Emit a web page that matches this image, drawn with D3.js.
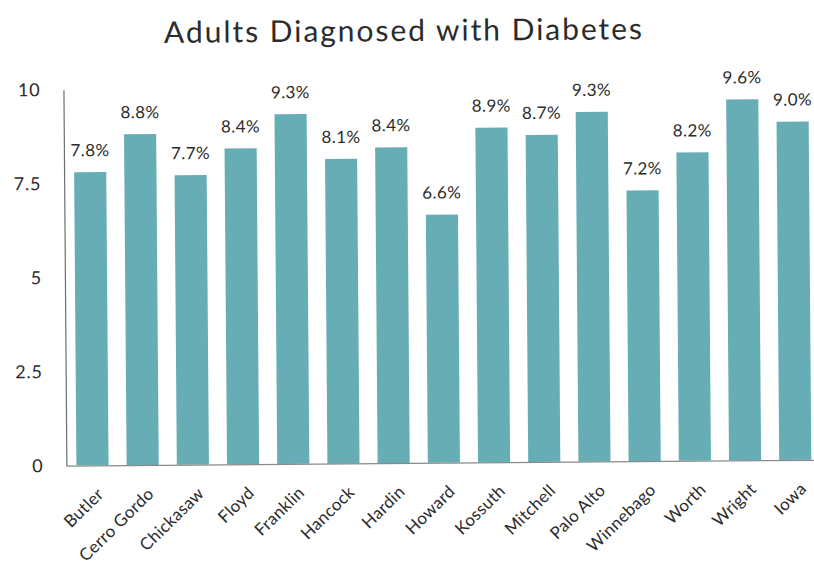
<!DOCTYPE html>
<html>
<head>
<meta charset="utf-8">
<script src="https://cdn.jsdelivr.net/npm/d3@7"></script>
<style>
  html, body { margin: 0; padding: 0; background: #fff; }
  svg { display: block; }
  text { font-family: "Lato", "Open Sans", sans-serif; fill: #2b2b2b; }
</style>
</head>
<body>
<svg id="chart" width="814" height="576"></svg>
<script>
// County-level share of adults diagnosed with diabetes (%)
const counties = ["Butler", "Cerro Gordo", "Chickasaw", "Floyd", "Franklin", "Hancock", "Hardin",
  "Howard", "Kossuth", "Mitchell", "Palo Alto", "Winnebago", "Worth", "Wright", "Iowa"];
const diabetesRate = [7.8, 8.8, 7.7, 8.4, 9.3, 8.1, 8.4, 6.6, 8.9, 8.7, 9.3, 7.2, 8.2, 9.6, 9.0];
const yTicks = [0, 2.5, 5, 7.5, 10];
const yTickLabels = ["0", "2.5", "5", "7.5", "10"];
const chartTitle = "Adults Diagnosed with Diabetes";

const W = 814, H = 576;
const margin = { left: 65, right: -6, top: 87, bottom: 113 };

const svg = d3.select("#chart");
const root = svg.append("g").attr("transform", `rotate(-0.45, ${W / 2}, ${H / 2})`);

const x = d3.scaleBand()
  .domain(counties)
  .range([margin.left, W - margin.right])
  .paddingInner(0.36)
  .paddingOuter(0.2);

const y = d3.scaleLinear()
  .domain([0, 10])
  .range([H - margin.bottom, margin.top]);

// title
root.append("text")
  .attr("x", 405)
  .attr("y", 41)
  .attr("text-anchor", "middle")
  .attr("textLength", 478)
  .attr("lengthAdjust", "spacing")
  .style("font-size", "30px")
  .text(chartTitle);

// bars
root.append("g").selectAll("rect")
  .data(counties)
  .join("rect")
  .attr("x", d => x(d))
  .attr("width", x.bandwidth())
  .attr("y", (d, i) => y(diabetesRate[i]))
  .attr("height", (d, i) => y(0) - y(diabetesRate[i]))
  .attr("fill", "#67adb6");

// value labels
root.append("g").selectAll("text")
  .data(counties)
  .join("text")
  .attr("x", d => x(d) + x.bandwidth() / 2)
  .attr("y", (d, i) => y(diabetesRate[i]) - 16)
  .attr("text-anchor", "middle")
  .style("font-size", "17px")
  .style("letter-spacing", "0.4px")
  .text((d, i) => diabetesRate[i].toFixed(1) + "%");

// y axis
const yAxis = root.append("g")
  .attr("transform", `translate(${margin.left},0)`)
  .call(d3.axisLeft(y).tickValues(yTicks).tickSize(0).tickPadding(23)
    .tickFormat((d, i) => yTickLabels[i]));
yAxis.select(".domain").attr("stroke", "#6f6f6f").attr("stroke-width", 1.2);
yAxis.selectAll(".tick text")
  .style("font-size", "18px")
  .style("letter-spacing", "0.8px")
  .style("font-family", "Lato, sans-serif")
  .attr("fill", "#2b2b2b");

// x axis
const xAxis = root.append("g")
  .attr("transform", `translate(0,${y(0)})`)
  .call(d3.axisBottom(x).tickSize(0).tickPadding(0));
xAxis.select(".domain").attr("stroke", "#8a8a8a").attr("stroke-width", 1.2);
xAxis.selectAll(".tick text")
  .style("font-size", "17px")
  .style("letter-spacing", "0.3px")
  .style("font-family", "Lato, sans-serif")
  .attr("fill", "#2b2b2b")
  .attr("text-anchor", "end")
  .attr("dy", 0)
  .attr("transform", "translate(12,30) rotate(-44)");
</script>
</body>
</html>
